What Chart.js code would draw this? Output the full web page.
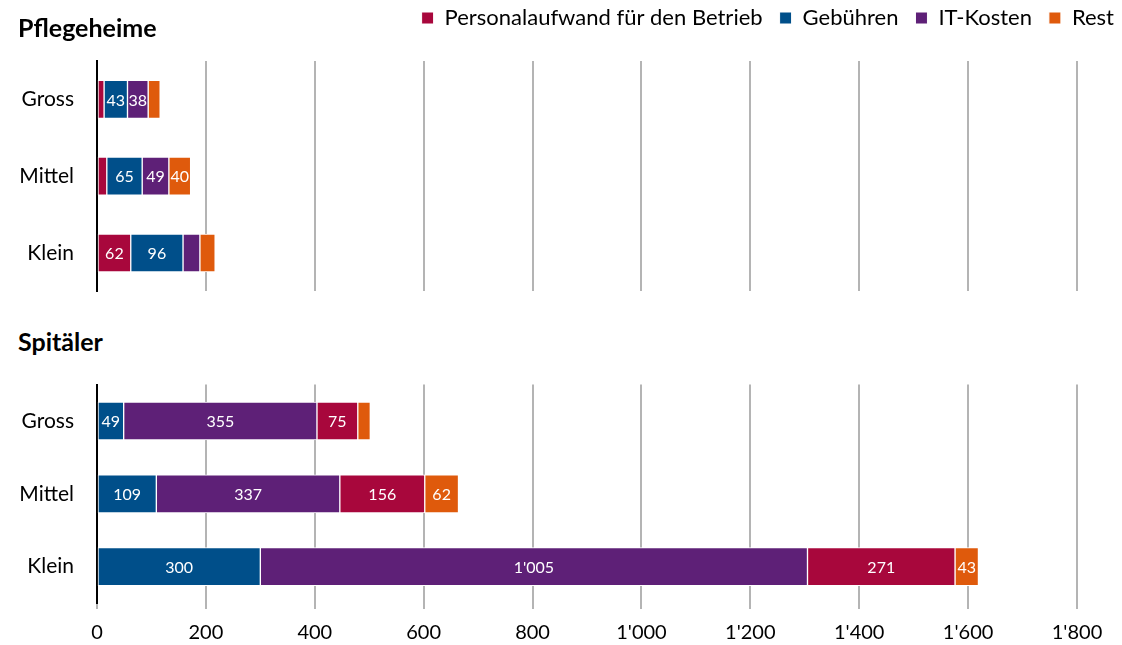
<!DOCTYPE html>
<html>
<head>
<meta charset="utf-8">
<script src="https://cdn.jsdelivr.net/npm/chart.js@4/dist/chart.umd.min.js"></script>
<style>
  body { margin: 0; background: #fff; width: 1122px; height: 645px; overflow: hidden; position: relative; font-family: Lato, sans-serif; }
  canvas { position: absolute; left: 0; }
  .title { position: absolute; left: 18px; font-weight: bold; font-size: 25px; color: #000; line-height: 30px; z-index: 1; }
</style>
</head>
<body>
<div class="title" style="top:12px">Pflegeheime</div>
<div class="title" style="top:326px">Spitäler</div>
<canvas id="chart-heime" width="1131" height="314" style="top:-10px"></canvas>
<canvas id="chart-spital" width="1131" height="285" style="top:372px"></canvas>
<script>
const categories = ['Gross', 'Mittel', 'Klein'];

// Pflegeheime
const heimePersonal = [13, 18, 62];
const heimeGebuehren = [43, 65, 96];
const heimeIT = [38, 49, 31];
const heimeRest = [22, 40, 28];

// Spitäler
const spitalGebuehren = [49, 109, 300];
const spitalIT = [355, 337, 1005];
const spitalPersonal = [75, 156, 271];
const spitalRest = [23, 62, 43];

const xTicks = [0, 200, 400, 600, 800, 1000, 1200, 1400, 1600, 1800];

const colors = {
  personal: '#A8073C',
  gebuehren: '#004F8A',
  it: '#5E2077',
  rest: '#DF5A0C'
};

const fmt = v => String(v).replace(/\B(?=(\d{3})+(?!\d))/g, "'");
const FONT = 'Lato, sans-serif';

const barLabels = {
  id: 'barLabels',
  afterDatasetsDraw(chart) {
    const ctx = chart.ctx;
    ctx.save();
    ctx.fillStyle = '#fff';
    ctx.font = '16px ' + FONT;
    ctx.textAlign = 'center';
    ctx.textBaseline = 'middle';
    chart.data.datasets.forEach((ds, i) => {
      chart.getDatasetMeta(i).data.forEach((bar, j) => {
        const v = ds.data[j];
        if (v < 35) return;
        const { x, base, y } = bar.getProps(['x', 'base', 'y'], true);
        ctx.fillText(fmt(v), (x + base) / 2, y + 1);
      });
    });
    ctx.restore();
  }
};

// extra room between legend and plot
const legendGap = {
  id: 'legendGap',
  beforeInit(chart) {
    const fit = chart.legend.fit;
    chart.legend.fit = function () {
      fit.bind(chart.legend)();
      this.height += 22;
    };
  }
};

function ds(label, data, color) {
  return {
    label, data,
    backgroundColor: color,
    borderColor: '#fff',
    borderWidth: 1,
    borderSkipped: false,
    barThickness: 38
  };
}

function scales(showTicks) {
  return {
    x: {
      stacked: true,
      min: 0, max: 1800,
      afterBuildTicks: s => { s.ticks = xTicks.map(v => ({ value: v })); },
      grid: { color: '#b4b4b4', lineWidth: 2, drawTicks: showTicks, tickLength: 6 },
      border: { display: false },
      ticks: {
        display: showTicks,
        color: '#000',
        font: { family: FONT, size: 20 },
        padding: 12,
        callback: v => fmt(v)
      }
    },
    y: {
      stacked: true,
      afterFit: s => { s.width = 97; },
      grid: { display: false, drawTicks: true, tickLength: 23 },
      border: { color: '#000', width: 2 },
      ticks: { color: '#000', font: { family: FONT, size: 21 }, padding: 0 }
    },
    // empty right axis keeps the plot off the right edge
    right: {
      position: 'right',
      afterFit: s => { s.width = 54; },
      grid: { display: false },
      border: { display: false },
      ticks: { display: false }
    }
  };
}

new Chart(document.getElementById('chart-heime'), {
  type: 'bar',
  data: {
    labels: categories,
    datasets: [
      ds('Personalaufwand für den Betrieb', heimePersonal, colors.personal),
      ds('Gebühren', heimeGebuehren, colors.gebuehren),
      ds('IT-Kosten', heimeIT, colors.it),
      ds('Rest', heimeRest, colors.rest)
    ]
  },
  options: {
    indexAxis: 'y',
    responsive: false,
    animation: false,
    layout: { padding: 0 },
    scales: scales(false),
    plugins: {
      legend: {
        position: 'top',
        align: 'end',
        labels: {
          color: '#000',
          font: { family: FONT, size: 22 },
          boxWidth: 12,
          boxHeight: 12,
          padding: 17
        }
      },
      tooltip: { enabled: false }
    }
  },
  plugins: [barLabels, legendGap]
});

new Chart(document.getElementById('chart-spital'), {
  type: 'bar',
  data: {
    labels: categories,
    datasets: [
      ds('Gebühren', spitalGebuehren, colors.gebuehren),
      ds('IT-Kosten', spitalIT, colors.it),
      ds('Personalaufwand für den Betrieb', spitalPersonal, colors.personal),
      ds('Rest', spitalRest, colors.rest)
    ]
  },
  options: {
    indexAxis: 'y',
    responsive: false,
    animation: false,
    layout: { padding: 0 },
    scales: scales(true),
    plugins: {
      legend: { display: false },
      tooltip: { enabled: false }
    }
  },
  plugins: [barLabels]
});
</script>
</body>
</html>
